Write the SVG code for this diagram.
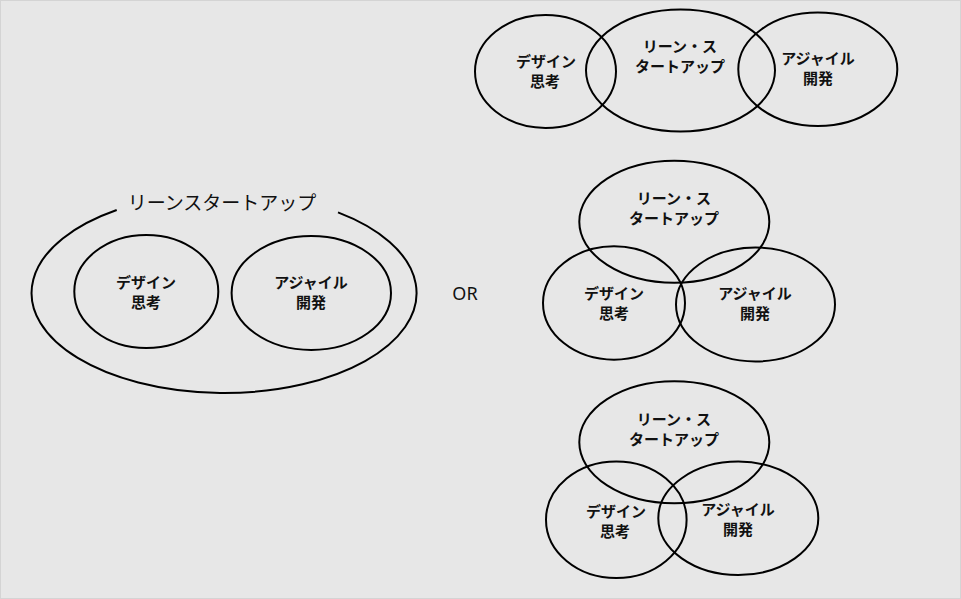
<svg xmlns="http://www.w3.org/2000/svg" width="961" height="599" viewBox="0 0 961 599">
<style>
.e{fill:none;stroke:#000;stroke-width:2}
.l{font-family:"Noto Sans CJK JP","Noto Sans",sans-serif;font-size:15px;font-weight:bold;fill:#111;text-anchor:middle}
.t{font-family:"Noto Sans CJK JP","Noto Sans",sans-serif;font-size:19px;fill:#111;text-anchor:middle}
.or{font-family:"Noto Sans","Open Sans",sans-serif;font-size:18px;fill:#111;text-anchor:middle}
</style>
<rect x="0" y="0" width="961" height="599" fill="#e7e7e7"/>
<rect x="0.5" y="0.5" width="960" height="598" fill="none" stroke="#d4d4d4"/>

<g id="left-group">
  <g id="lean-outer">
    <path class="e" d="M116.7,210 A192.5,100 0 1 0 338,212.4"/>
    <text class="t" x="222" y="210">リーンスタートアップ</text>
  </g>
  <g id="left-design">
    <ellipse class="e" cx="146.3" cy="291.5" rx="72" ry="56.5"/>
    <text class="l" x="146" y="288">デザイン</text>
    <text class="l" x="146" y="308">思考</text>
  </g>
  <g id="left-agile">
    <ellipse class="e" cx="311.3" cy="293" rx="79.7" ry="57"/>
    <text class="l" x="311" y="288">アジャイル</text>
    <text class="l" x="311" y="308">開発</text>
  </g>
</g>

<g id="or-label">
  <text class="or" x="465" y="300">OR</text>
</g>

<g id="top-group">
  <g id="top-design">
    <ellipse class="e" cx="545.5" cy="71.5" rx="70.5" ry="56.5"/>
    <text class="l" x="546" y="67">デザイン</text>
    <text class="l" x="545" y="87">思考</text>
  </g>
  <g id="top-lean">
    <ellipse class="e" cx="680.5" cy="70.5" rx="94.5" ry="61"/>
    <text class="l" x="680" y="52">リーン・ス</text>
    <text class="l" x="680" y="72">タートアップ</text>
  </g>
  <g id="top-agile">
    <ellipse class="e" cx="817.8" cy="69.3" rx="79.5" ry="56.7"/>
    <text class="l" x="818" y="64">アジャイル</text>
    <text class="l" x="818" y="84">開発</text>
  </g>
</g>

<g id="mid-group">
  <g id="mid-lean">
    <ellipse class="e" cx="674.3" cy="221.8" rx="95" ry="61"/>
    <text class="l" x="674" y="204">リーン・ス</text>
    <text class="l" x="674" y="224">タートアップ</text>
  </g>
  <g id="mid-design">
    <ellipse class="e" cx="614" cy="303" rx="71" ry="56.7"/>
    <text class="l" x="614" y="299">デザイン</text>
    <text class="l" x="614" y="319">思考</text>
  </g>
  <g id="mid-agile">
    <ellipse class="e" cx="755.5" cy="304.5" rx="79.5" ry="57"/>
    <text class="l" x="755" y="299">アジャイル</text>
    <text class="l" x="755" y="319">開発</text>
  </g>
</g>

<g id="bottom-group">
  <g id="bot-lean">
    <ellipse class="e" cx="674.3" cy="442.3" rx="95" ry="61"/>
    <text class="l" x="674" y="425">リーン・ス</text>
    <text class="l" x="674" y="445">タートアップ</text>
  </g>
  <g id="bot-design">
    <ellipse class="e" cx="616.3" cy="519.7" rx="70.3" ry="58.3"/>
    <text class="l" x="616" y="517">デザイン</text>
    <text class="l" x="615" y="537">思考</text>
  </g>
  <g id="bot-agile">
    <ellipse class="e" cx="738.3" cy="518.3" rx="80" ry="56.7"/>
    <text class="l" x="738" y="515">アジャイル</text>
    <text class="l" x="738" y="535">開発</text>
  </g>
</g>
</svg>
